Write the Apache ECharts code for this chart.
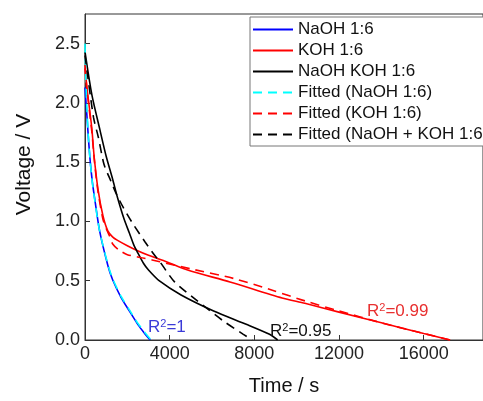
<!DOCTYPE html>
<html>
<head>
<meta charset="utf-8">
<script src="https://cdn.jsdelivr.net/npm/echarts@6/dist/echarts.min.js"></script>
<style>
html,body{margin:0;padding:0;background:#fff;}
#chart{width:483px;height:401px;}
</style>
</head>
<body>
<div id="chart"></div>
<script>
// ---- data (time in s, voltage in V) ----
const seriesNames = ['NaOH 1:6', 'KOH 1:6', 'NaOH KOH 1:6', 'Fitted (NaOH 1:6)', 'Fitted (KOH 1:6)', 'Fitted (NaOH + KOH 1:6'];

const naohT = [0, 80, 170, 250, 350, 460, 690, 1077, 1300, 1700, 2077, 2500, 2800, 3080];
const naohV = [2.13, 1.92, 1.68, 1.5, 1.33, 1.19, 0.92, 0.63, 0.51, 0.36, 0.25, 0.13, 0.06, 0];

const kohT = [0, 90, 320, 430, 615, 845, 1077, 1300, 1538, 2000, 2460, 3000, 3846, 4846, 6846, 9308, 10385, 12000, 14000, 16000, 17250];
const kohV = [2.29, 2.13, 1.79, 1.55, 1.27, 1.05, 0.92, 0.87, 0.84, 0.795, 0.755, 0.714, 0.66, 0.59, 0.49, 0.355, 0.31, 0.235, 0.145, 0.055, 0];

const mixT = [0, 323, 708, 1000, 1300, 1538, 1846, 2100, 2308, 2450, 2769, 3000, 3500, 4538, 6077, 7615, 8692, 9100];
const mixV = [2.43, 2.07, 1.77, 1.55, 1.36, 1.2, 1.02, 0.9, 0.8, 0.75, 0.645, 0.59, 0.5, 0.38, 0.245, 0.133, 0.05, 0];

const fitNaohT = [0, 40, 90, 170, 250, 350, 460, 690, 1077, 1300, 1700, 2077, 2500, 2800, 3120];
const fitNaohV = [2.5, 2.2, 1.95, 1.68, 1.5, 1.32, 1.18, 0.92, 0.64, 0.52, 0.37, 0.26, 0.14, 0.07, 0];

const fitKohT = [0, 100, 320, 450, 615, 845, 1000, 1154, 1308, 1600, 2000, 2800, 3538, 5000, 7000, 8846, 10385, 12000, 14000, 16000, 17250];
const fitKohV = [2.32, 2.1, 1.76, 1.5, 1.25, 1.02, 0.94, 0.88, 0.81, 0.76, 0.72, 0.69, 0.66, 0.6, 0.52, 0.42, 0.33, 0.245, 0.145, 0.055, 0];

const fitMixT = [0, 400, 630, 900, 1200, 1460, 1800, 2230, 2846, 3308, 3538, 4230, 5308, 6538, 7462, 7900];
const fitMixV = [2.4, 1.88, 1.71, 1.48, 1.35, 1.24, 1.12, 0.99, 0.825, 0.71, 0.66, 0.49, 0.33, 0.16, 0.05, 0];

const xTicks = [0, 4000, 8000, 12000, 16000];
const yTicks = [0.0, 0.5, 1.0, 1.5, 2.0, 2.5];

const FONT = '"Liberation Sans", Arial, sans-serif';

function pairs(t, v) { return t.map((x, i) => [x, v[i]]); }

function lineSeries(name, t, v, color, dashed) {
  return {
    name: name,
    type: 'line',
    data: pairs(t, v),
    symbol: 'none',
    smooth: 0.25,
    lineStyle: { color: color, width: 1.6, type: dashed ? [9, 6] : 'solid' },
    itemStyle: { color: color },
    animation: false
  };
}

const chart = echarts.init(document.getElementById('chart'), null, { renderer: 'canvas' });

chart.setOption({
  animation: false,
  backgroundColor: '#fff',
  grid: { left: 85, top: 14, right: -9.3, bottom: 55, show: true, borderColor: '#333', borderWidth: 1, backgroundColor: 'transparent' },
  xAxis: {
    type: 'value', min: 0, max: 18800, interval: 4000,
    name: 'Time / s', nameLocation: 'middle', nameGap: 36,
    nameTextStyle: { fontFamily: FONT, fontSize: 20, color: '#111' },
    axisLine: { show: true, lineStyle: { color: '#333', width: 1 } },
    axisTick: { show: true, inside: true, length: 5, lineStyle: { color: '#333' } },
    axisLabel: { fontFamily: FONT, fontSize: 18, color: '#222', margin: 5, showMaxLabel: false,
      formatter: v => xTicks.includes(v) ? String(v) : '' },
    splitLine: { show: false }
  },
  yAxis: {
    type: 'value', min: 0, max: 2.75, interval: 0.5,
    name: 'Voltage / V', nameLocation: 'middle', nameGap: 50,
    nameTextStyle: { fontFamily: FONT, fontSize: 21, color: '#111', padding: [0, 0, 0, 25] },
    axisLine: { show: true, lineStyle: { color: '#333', width: 1 } },
    axisTick: { show: true, inside: true, length: 5, lineStyle: { color: '#333' } },
    axisLabel: { fontFamily: FONT, fontSize: 18, color: '#222', margin: 5, showMaxLabel: false,
      formatter: v => yTicks.some(t => Math.abs(t - v) < 1e-9) ? v.toFixed(1) : '' },
    splitLine: { show: false }
  },
  legend: {
    left: 250, top: 17, orient: 'vertical',
    padding: [4, 30, 3, 2],
    itemWidth: 40, itemHeight: 14, itemGap: 4,
    itemStyle: { opacity: 0 },
    borderColor: '#777', borderWidth: 1, backgroundColor: '#fff',
    textStyle: { fontFamily: FONT, fontSize: 17, color: '#111' },
    data: seriesNames
  },
  series: [
    lineSeries(seriesNames[0], naohT, naohV, '#0000ff', false),
    lineSeries(seriesNames[1], kohT, kohV, '#ff0000', false),
    lineSeries(seriesNames[2], mixT, mixV, '#000000', false),
    lineSeries(seriesNames[3], fitNaohT, fitNaohV, '#00ffff', true),
    lineSeries(seriesNames[4], fitKohT, fitKohV, '#ff0000', true),
    lineSeries(seriesNames[5], fitMixT, fitMixV, '#000000', true)
  ],
  graphic: [
    { type: 'text', left: 148, top: 318, z: 10, style: {
      text: '{a|R}{s|2}{a|=1}', fill: '#3a3ad8',
      rich: { a: { fontFamily: FONT, fontSize: 17, lineHeight: 18, fill: '#3a3ad8' }, s: { fontFamily: FONT, fontSize: 11, lineHeight: 11, verticalAlign: 'top', fill: '#3a3ad8' } } } },
    { type: 'text', left: 270, top: 322, z: 10, style: {
      text: '{a|R}{s|2}{a|=0.95}', fill: '#111',
      rich: { a: { fontFamily: FONT, fontSize: 17, lineHeight: 18, fill: '#111' }, s: { fontFamily: FONT, fontSize: 11, lineHeight: 11, verticalAlign: 'top', fill: '#111' } } } },
    { type: 'text', left: 367, top: 302, z: 10, style: {
      text: '{a|R}{s|2}{a|=0.99}', fill: '#e83030',
      rich: { a: { fontFamily: FONT, fontSize: 17, lineHeight: 18, fill: '#e83030' }, s: { fontFamily: FONT, fontSize: 11, lineHeight: 11, verticalAlign: 'top', fill: '#e83030' } } } }
  ]
});
</script>
</body>
</html>
